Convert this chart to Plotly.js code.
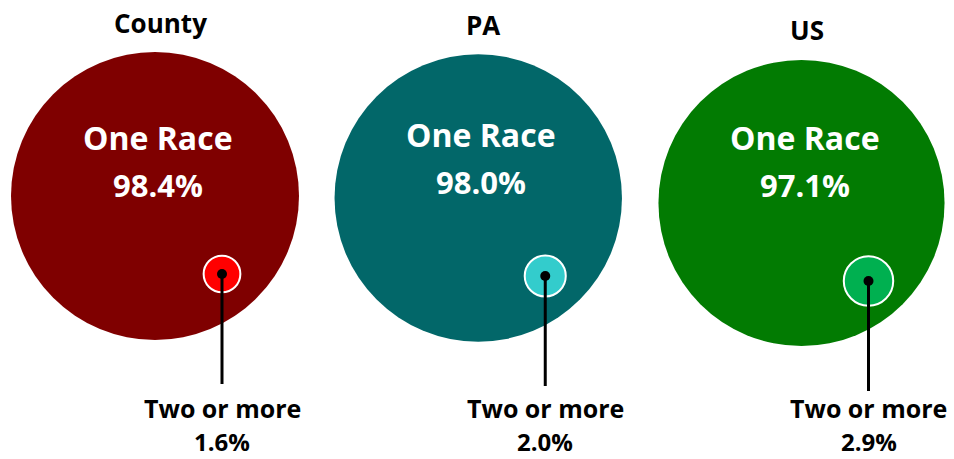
<!DOCTYPE html>
<html><head><meta charset="utf-8">
<script src="https://cdn.plot.ly/plotly-3.0.1.min.js"></script>
<style>html,body{margin:0;padding:0;background:#fff}#chart{width:954px;height:459px}</style>
</head><body><div id="chart"></div>
<script>
// ---- data ----
const regions = ['County', 'PA', 'US'];
const oneRace = [98.4, 98.0, 97.1];
const twoOrMore = [1.6, 2.0, 2.9];
const mainLabel = 'One Race';
const minorLabel = 'Two or more';

// ---- styling / layout ----
const bigColors = ['#7F0000', '#026769', '#027B02'];
const smallColors = ['#FF0000', '#33CCCC', '#00B050'];
const rowDy = [-3, -1, 4];          // vertical nudge per panel (axis units = px)
const textDy = [0, -3, 0];          // vertical nudge of inner labels
const smallDx = 67 / 323.25;         // offset of minor bubble (x units)
const smallDy = 78;                  // offset of minor bubble (px units)
const leader = 110;                  // leader line length
const sizeref = 2 * 98.4 / (288 * 288);
const fontCircle = 'Open Sans, DejaVu Sans, sans-serif';
const fontOut = 'Open Sans, DejaVu Sans, sans-serif';

const idx = regions.map((_, i) => i);
const sx = idx.map(i => i + smallDx);
const sy = idx.map(i => rowDy[i] + smallDy);

const traces = [];
traces.push({
  type: 'scatter', mode: 'markers', x: idx, y: rowDy,
  marker: {size: oneRace, sizemode: 'area', sizeref: sizeref, color: bigColors, line: {width: 0}, opacity: 1},
  hoverinfo: 'skip', cliponaxis: false
});
traces.push({
  type: 'scatter', mode: 'markers', x: sx, y: sy,
  marker: {size: twoOrMore, sizemode: 'area', sizeref: sizeref, color: smallColors, line: {width: 2, color: '#FFFFFF'}, opacity: 1},
  hoverinfo: 'skip', cliponaxis: false
});
idx.forEach(i => {
  traces.push({
    type: 'scatter', mode: 'lines', x: [sx[i], sx[i]], y: [sy[i], sy[i] + leader],
    line: {color: '#000000', width: 3}, hoverinfo: 'skip'
  });
});
traces.push({
  type: 'scatter', mode: 'markers', x: sx, y: sy,
  marker: {size: 10, color: '#000000'}, hoverinfo: 'skip'
});

const ann = [];
idx.forEach(i => {
  const cx = i + 5 / 323.25;
  ann.push({x: cx, y: rowDy[i] - 173, text: regions[i], showarrow: false, xanchor: 'center', yanchor: 'middle',
    font: {family: fontOut, size: 26, color: '#000', weight: 700}});
  ann.push({x: i + 3 / 323.25, y: textDy[i] - 62, text: mainLabel, showarrow: false, xanchor: 'center', yanchor: 'middle',
    font: {family: fontCircle, size: 32, color: '#fff', weight: 700}});
  ann.push({x: i + 3 / 323.25, y: textDy[i] - 14, text: oneRace[i].toFixed(1) + '%', showarrow: false, xanchor: 'center', yanchor: 'middle',
    font: {family: fontCircle, size: 31, color: '#fff', weight: 700}});
  ann.push({x: sx[i], y: 209, text: minorLabel, showarrow: false, xanchor: 'center', yanchor: 'middle',
    font: {family: fontOut, size: 25, color: '#000', weight: 700}});
  ann.push({x: sx[i], y: 260, text: twoOrMore[i].toFixed(1) + '%', showarrow: false, xanchor: 'center', yanchor: 'bottom',
    borderpad: 0, font: {family: fontOut, size: 24, color: '#000', weight: 700}});
});

const layout = {
  width: 954, height: 459,
  margin: {l: 0, r: 0, t: 0, b: 0},
  paper_bgcolor: '#fff', plot_bgcolor: '#fff',
  showlegend: false,
  xaxis: {range: [-155 / 323.25, (954 - 155) / 323.25], visible: false, fixedrange: true},
  yaxis: {range: [260, -199], visible: false, fixedrange: true},
  annotations: ann
};
Plotly.newPlot('chart', traces, layout, {displayModeBar: false, staticPlot: true});
</script>
</body></html>
